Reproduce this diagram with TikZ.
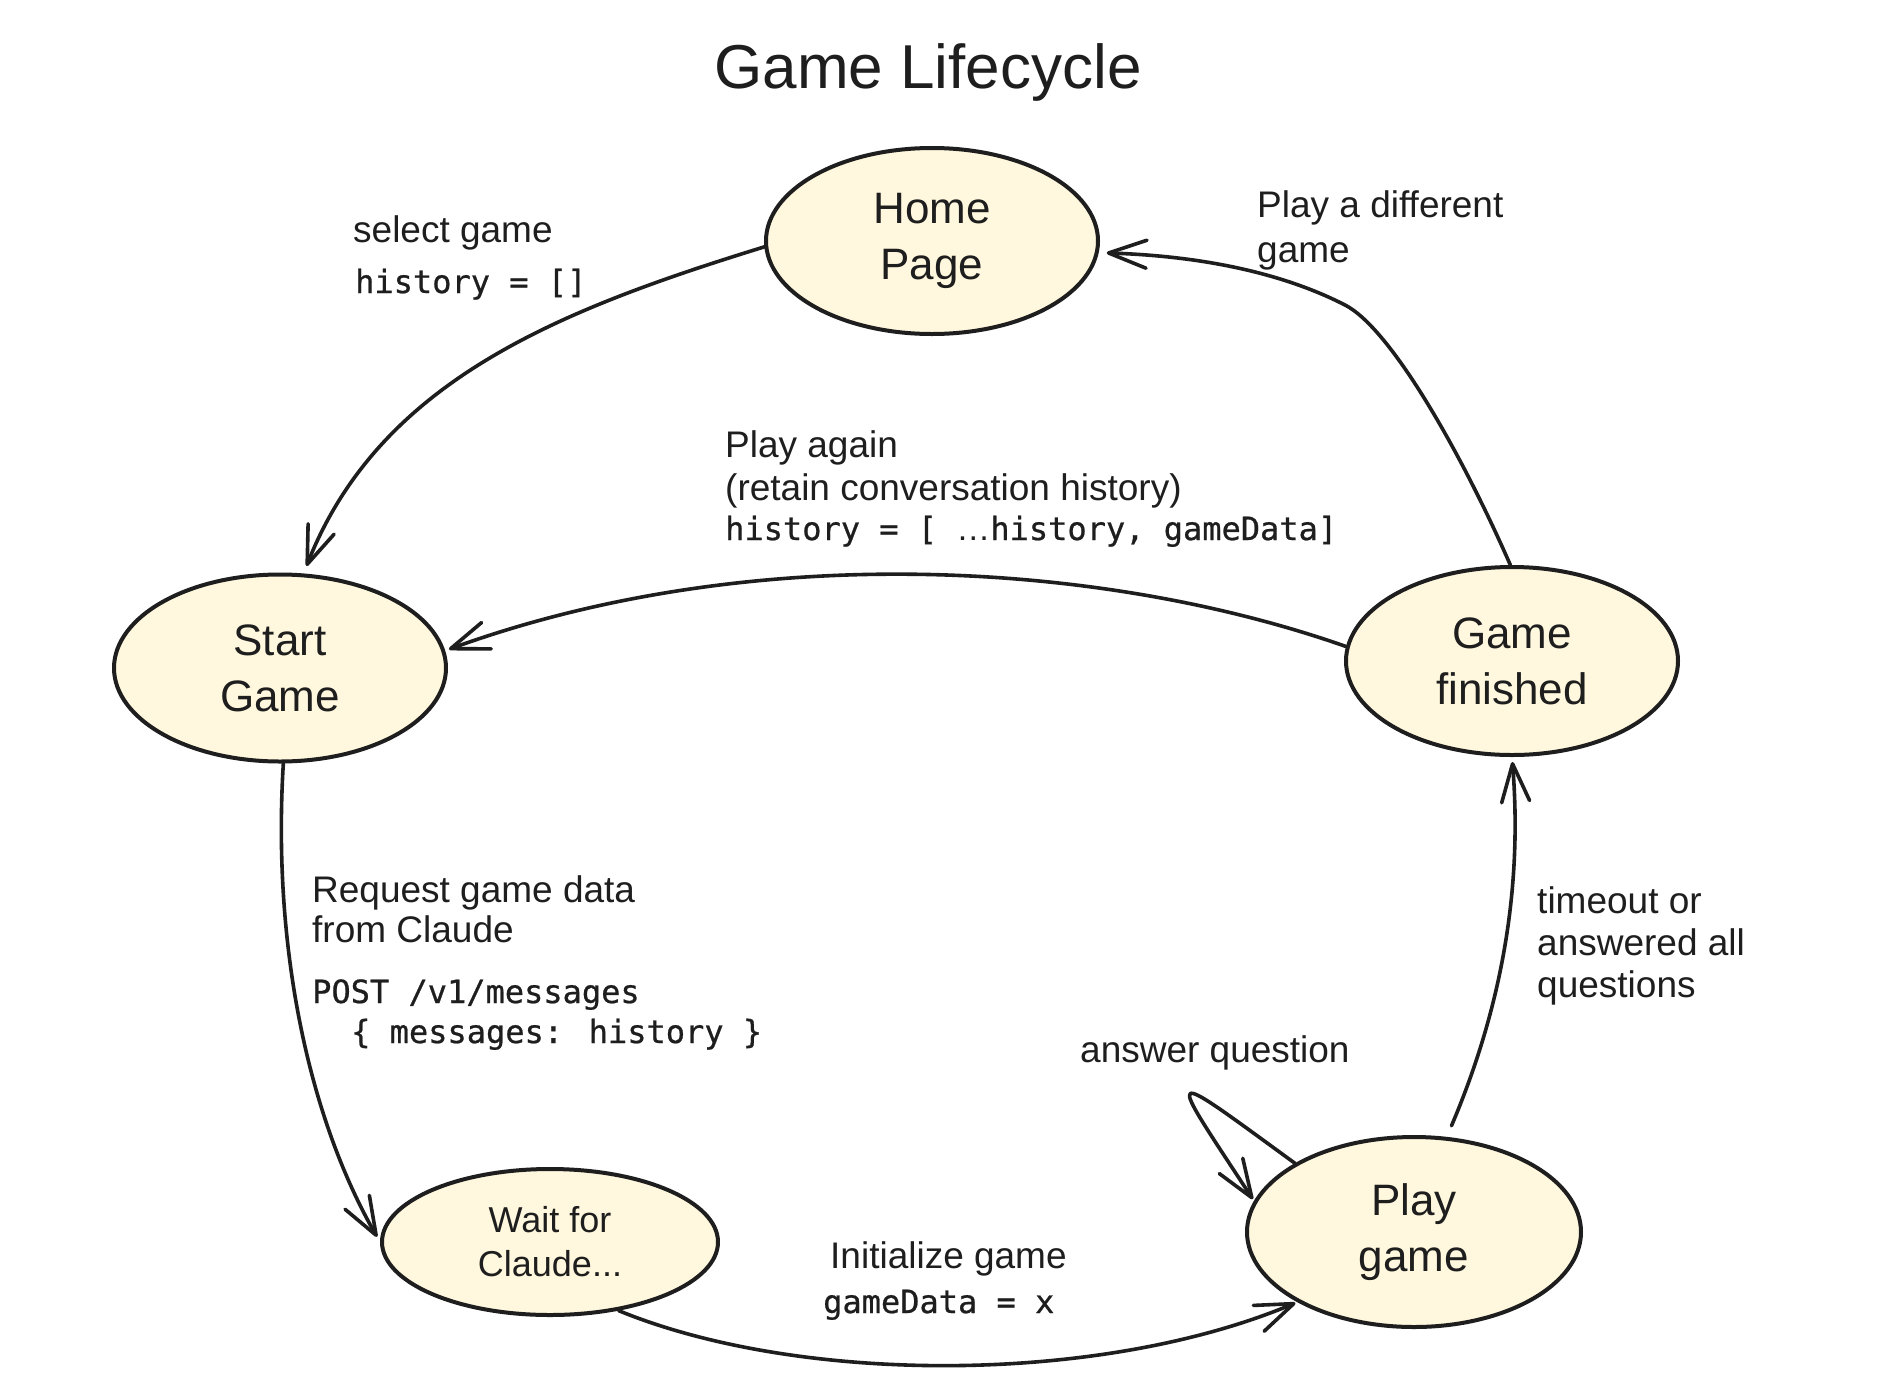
\documentclass[tikz,border=0pt]{standalone}
\usepackage{fontspec}
\setmainfont{Liberation Sans}
\newfontfamily\handfont{Liberation Sans}
\newfontfamily\codefont[FakeBold=0.7]{DejaVu Sans Mono}
\usetikzlibrary{shapes.geometric,arrows.meta}
\definecolor{ink}{HTML}{1E1E1E}
\definecolor{statefill}{HTML}{FFF8DE}
\begin{document}
\begin{tikzpicture}[x=1pt,y=-1pt,
  state/.style={ellipse, draw=ink, fill=statefill, line width=4pt, inner sep=0pt,
    align=center, text=ink, font=\handfont\fontsize{44}{56}\selectfont},
  lbl/.style={anchor=base west, inner sep=0pt, text=ink, font=\handfont\fontsize{37}{44}\selectfont},
  code/.style={anchor=base west, inner sep=0pt, text=ink, font=\codefont\fontsize{32}{40}\selectfont},
  conn/.style={draw=ink, line width=3.6pt, line cap=round, line join=round,
    -{Straight Barb[length=38pt,width=28pt,round]}},
]
\useasboundingbox (0,0) rectangle (1888,1382);
\fill[white] (0,0) rectangle (1888,1382);

% title
\node[anchor=base, inner sep=0pt, text=ink, font=\handfont\fontsize{62}{70}\selectfont] (title) at (928,88) {Game Lifecycle};

% states
\node[state, minimum width=332pt, minimum height=186pt] (home) at (932,241) {Home\\Page};
\node[state, minimum width=332pt, minimum height=187pt] (start) at (280,668) {Start\\Game};
\node[state, minimum width=332pt, minimum height=188pt] (finished) at (1512,661) {Game\\finished};
\node[state, minimum width=336pt, minimum height=146pt, font=\handfont\fontsize{36}{44}\selectfont] (wait) at (550,1242) {Wait for\\Claude...};
\node[state, minimum width=334pt, minimum height=190pt] (play) at (1414,1232) {Play\\game};

% labels
\node[lbl] (selA) at (353,242) {select game};
\node[code] (selB) at (355,293) {history = []};

\node[lbl] (difA) at (1257,217) {Play a different};
\node[lbl] (difB) at (1257,262) {game};

\node[lbl] (agA) at (725,457) {Play again};
\node[lbl] (agB) at (725,500) {(retain conversation history)};
\node[code] (agC) at (725,540) {history = [ {\handfont\fontsize{34}{40}\selectfont …}history, gameData]};

\node[lbl] (reqA) at (312,902) {Request game data};
\node[lbl] (reqB) at (312,942) {from Claude};
\node[code] (reqC) at (312,1003) {POST /v1/messages};
\node[code] (reqD) at (351,1043) {\{ messages: history \}};

\node[lbl] (iniA) at (830,1268) {Initialize game};
\node[code] (iniB) at (823,1313) {gameData = x};

\node[lbl] (ans) at (1080,1062) {answer question};

\node[lbl] (toA) at (1537,913) {timeout or};
\node[lbl] (toB) at (1537,955) {answered all};
\node[lbl] (toC) at (1537,997) {questions};

% connectors
\draw[conn, shorten >=8pt] (home.182) .. controls (560,310) and (380,380) .. (start.76);
\draw[conn, shorten >=8pt] (finished.91) .. controls (1460,450) and (1390,328) .. (1345,305)
   .. controls (1265,264) and (1170,255) .. (home.-4);
\draw[conn, shorten >=4pt] (finished.175) .. controls (1100,560) and (750,540) .. (start.6);
\draw[conn, shorten >=6pt] (start.-88) .. controls (272,950) and (310,1120) .. (wait.west);
\draw[conn, shorten >=2pt] (wait.-45) .. controls (800,1385) and (1100,1385) .. (play.211);
\draw[conn, shorten <=12pt, shorten >=5pt] (play.71) .. controls (1505,1000) and (1522,880) .. (finished.-90);
\draw[conn, shorten >=2pt] (play.150) .. controls (1160,1065) and (1165,1065) .. (play.169);
\end{tikzpicture}
\end{document}
